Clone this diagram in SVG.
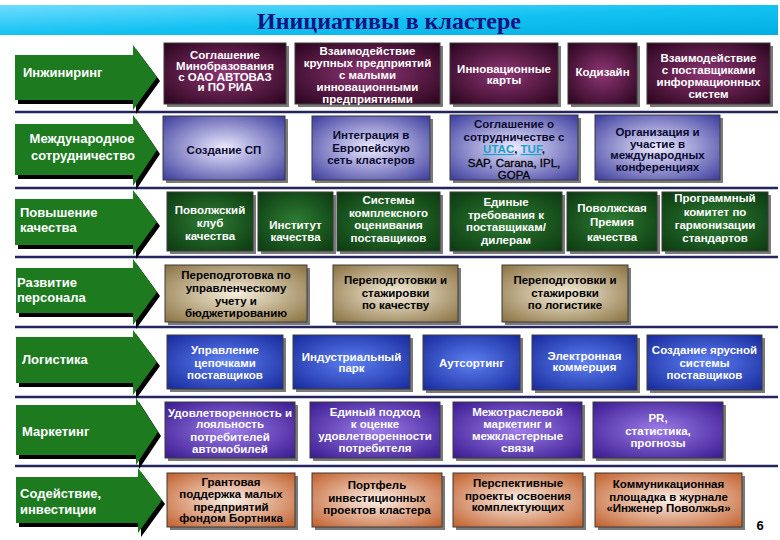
<svg xmlns="http://www.w3.org/2000/svg" width="780" height="540" viewBox="0 0 780 540">
<defs>
<linearGradient id="gt" x1="0" y1="0" x2="1" y2="1"><stop offset="0" stop-color="#6fdcff"/><stop offset="0.5" stop-color="#14c2f2"/><stop offset="1" stop-color="#00aee2"/></linearGradient>
<radialGradient id="g1" cx="50%" cy="50%" r="70%"><stop offset="0" stop-color="#8e3674"/><stop offset="1" stop-color="#2a041d"/></radialGradient>
<radialGradient id="g2" cx="50%" cy="50%" r="70%"><stop offset="0" stop-color="#eceaff"/><stop offset="1" stop-color="#3c3c9e"/></radialGradient>
<radialGradient id="g3" cx="50%" cy="50%" r="70%"><stop offset="0" stop-color="#2f7c34"/><stop offset="1" stop-color="#0b3a10"/></radialGradient>
<radialGradient id="g4" cx="50%" cy="50%" r="70%"><stop offset="0" stop-color="#f6efdc"/><stop offset="1" stop-color="#8a7140"/></radialGradient>
<radialGradient id="g5" cx="50%" cy="50%" r="70%"><stop offset="0" stop-color="#5d80f2"/><stop offset="1" stop-color="#182a9c"/></radialGradient>
<radialGradient id="g6" cx="50%" cy="50%" r="70%"><stop offset="0" stop-color="#9c7de8"/><stop offset="1" stop-color="#3a1a90"/></radialGradient>
<radialGradient id="g7" cx="50%" cy="50%" r="70%"><stop offset="0" stop-color="#fcf0e8"/><stop offset="1" stop-color="#c2602c"/></radialGradient>
<style>
.sep{stroke:#24245e;stroke-width:2.5}
.arw{fill:#1d7a1f}
.ash{fill:#000}
.lbl{font-family:"Liberation Sans",Arial,sans-serif;font-weight:bold;font-size:13px;fill:#fff}
.sh{fill:#7a7a7a}
.bx{stroke:#3a3a3a;stroke-width:1}
.r1{fill:url(#g1)}.r2{fill:url(#g2)}.r3{fill:url(#g3)}.r4{fill:url(#g4)}.r5{fill:url(#g5)}.r6{fill:url(#g6)}.r7{fill:url(#g7)}
.t{font-family:"Liberation Sans",Arial,sans-serif;font-weight:bold;font-size:11.5px;text-anchor:middle}
.w{fill:#fff}.k{fill:#000}.n{fill:#0a0a30}
.lnk{fill:#1aa0c8;text-decoration:underline}
</style>
</defs>
<rect width="780" height="540" fill="#fff"/>
<g id="title">
<rect x="0" y="5" width="778" height="30" fill="url(#gt)"/>
<text x="389" y="29" text-anchor="middle" font-family="'Liberation Serif','Times New Roman',serif" font-weight="bold" font-size="24" fill="#121282">Инициативы в кластере</text>
</g>
<g id="separators">
<line class="sep" x1="15" y1="112" x2="778" y2="112"/>
<line class="sep" x1="15" y1="188" x2="778" y2="188"/>
<line class="sep" x1="15" y1="257" x2="778" y2="257"/>
<line class="sep" x1="15" y1="327" x2="778" y2="327"/>
<line class="sep" x1="15" y1="397" x2="778" y2="397"/>
<line class="sep" x1="15" y1="466" x2="778" y2="466"/>
</g>
<g id="connectors"></g>
<g id="row-arrows">
<g id="a1"><polygon class="ash" transform="translate(3,4)" points="15,55 133,55 133,45 157,77 133,110 133,100 15,100"/><polygon class="arw" points="15,55 133,55 133,45 157,77 133,110 133,100 15,100"/><text class="lbl" x="23" y="77">Инжиниринг</text></g>
<g id="a2"><polygon class="ash" transform="translate(3,4)" points="15,124 133,124 133,115 157,150 133,186 133,175 15,175"/><polygon class="arw" points="15,124 133,124 133,115 157,150 133,186 133,175 15,175"/><text class="lbl" x="82" y="142.5" text-anchor="middle">Международное</text><text class="lbl" x="83" y="159.5" text-anchor="middle">сотрудничество</text></g>
<g id="a3"><polygon class="ash" transform="translate(3,4)" points="15,199 133,199 133,190 157,222 133,255 133,245 15,245"/><polygon class="arw" points="15,199 133,199 133,190 157,222 133,255 133,245 15,245"/><text class="lbl" x="20" y="217">Повышение</text><text class="lbl" x="20" y="232">качества</text></g>
<g id="a4"><polygon class="ash" transform="translate(3,4)" points="16,268 133,268 133,259 157,292 133,325 133,313 16,313"/><polygon class="arw" points="16,268 133,268 133,259 157,292 133,325 133,313 16,313"/><text class="lbl" x="17" y="287">Развитие</text><text class="lbl" x="17" y="302">персонала</text></g>
<g id="a5"><polygon class="ash" transform="translate(3,4)" points="16,337 133,337 133,330 157,362 133,395 133,383 16,383"/><polygon class="arw" points="16,337 133,337 133,330 157,362 133,395 133,383 16,383"/><text class="lbl" x="22" y="364">Логистика</text></g>
<g id="a6"><polygon class="ash" transform="translate(3,4)" points="16,405 136,405 136,398 158,432 136,465 136,455 16,455"/><polygon class="arw" points="16,405 136,405 136,398 158,432 136,465 136,455 16,455"/><text class="lbl" x="22" y="436">Маркетинг</text></g>
<g id="a7"><polygon class="ash" transform="translate(3,4)" points="16,477 138,477 138,468 162,500 138,533 138,523 16,523"/><polygon class="arw" points="16,477 138,477 138,468 162,500 138,533 138,523 16,523"/><text class="lbl" x="20" y="498">Содействие,</text><text class="lbl" x="20" y="514">инвестиции</text></g>
</g>
<g id="row1">
<g id="b11"><rect class="sh" x="167" y="46" width="122" height="61"/><rect class="bx r1" x="164" y="43" width="122" height="61"/><text class="t w"><tspan x="225" y="59">Соглашение</tspan><tspan x="225" y="70">Минобразования</tspan><tspan x="225" y="80.5">с ОАО АВТОВАЗ</tspan><tspan x="225" y="91">и ПО РИА</tspan></text></g>
<g id="b12"><rect class="sh" x="298" y="46" width="145" height="61"/><rect class="bx r1" x="295" y="43" width="145" height="61"/><text class="t w"><tspan x="367.5" y="55">Взаимодействие</tspan><tspan x="367.5" y="67">крупных предприятий</tspan><tspan x="367.5" y="79">с малыми</tspan><tspan x="367.5" y="91">инновационными</tspan><tspan x="367.5" y="103">предприятиями</tspan></text></g>
<g id="b13"><rect class="sh" x="453" y="46" width="108" height="61"/><rect class="bx r1" x="450" y="43" width="108" height="61"/><text class="t w"><tspan x="504" y="73">Инновационные</tspan><tspan x="504" y="84">карты</tspan></text></g>
<g id="b14"><rect class="sh" x="571" y="46" width="69" height="61"/><rect class="bx r1" x="568" y="43" width="69" height="61"/><text class="t w"><tspan x="602.5" y="76">Кодизайн</tspan></text></g>
<g id="b15"><rect class="sh" x="650" y="46" width="123" height="61"/><rect class="bx r1" x="647" y="43" width="123" height="61"/><text class="t w"><tspan x="708.5" y="62">Взаимодействие</tspan><tspan x="708.5" y="74">с поставщиками</tspan><tspan x="708.5" y="86">информационных</tspan><tspan x="708.5" y="98">систем</tspan></text></g>
</g>
<g id="row2">
<g id="b21"><rect class="sh" x="166" y="119" width="122" height="64"/><rect class="bx r2" x="163" y="116" width="122" height="64"/><text class="t n"><tspan x="224" y="154">Создание СП</tspan></text></g>
<g id="b22"><rect class="sh" x="315" y="119" width="118" height="64"/><rect class="bx r2" x="312" y="116" width="118" height="64"/><text class="t n"><tspan x="371" y="139">Интеграция в</tspan><tspan x="371" y="152">Европейскую</tspan><tspan x="371" y="164">сеть кластеров</tspan></text></g>
<g id="b23"><rect class="sh" x="453" y="118" width="128" height="65"/><rect class="bx r2" x="450" y="115" width="128" height="65"/><text class="t n"><tspan x="514" y="128">Соглашение о</tspan><tspan x="514" y="141">сотрудничестве с</tspan></text><text class="t n" x="514" y="153"><tspan class="lnk">UTAC</tspan>, <tspan class="lnk">TUF</tspan>,</text><text class="t k" style="font-size:11.5px;font-weight:normal;stroke:#000;stroke-width:0.3"><tspan x="514" y="166.5">SAP, Carana, IPL,</tspan><tspan x="514" y="178.5">GOPA</tspan></text></g>
<g id="b24"><rect class="sh" x="598" y="118" width="125" height="65"/><rect class="bx r2" x="595" y="115" width="125" height="65"/><text class="t n"><tspan x="657.5" y="136">Организация и</tspan><tspan x="657.5" y="148">участие в</tspan><tspan x="657.5" y="159">международных</tspan><tspan x="657.5" y="171">конференциях</tspan></text></g>
</g>
<g id="row3">
<g id="b31"><rect class="sh" x="170" y="195" width="86" height="59"/><rect class="bx r3" x="167" y="192" width="86" height="59"/><text class="t w"><tspan x="210" y="214">Поволжский</tspan><tspan x="210" y="227">клуб</tspan><tspan x="210" y="240">качества</tspan></text></g>
<g id="b32"><rect class="sh" x="261" y="195" width="75" height="59"/><rect class="bx r3" x="258" y="192" width="75" height="59"/><text class="t w"><tspan x="295.5" y="229">Институт</tspan><tspan x="295.5" y="241">качества</tspan></text></g>
<g id="b33"><rect class="sh" x="340" y="195" width="103" height="59"/><rect class="bx r3" x="337" y="192" width="103" height="59"/><text class="t w"><tspan x="388.5" y="204">Системы</tspan><tspan x="388.5" y="217">комплексного</tspan><tspan x="388.5" y="229">оценивания</tspan><tspan x="388.5" y="242">поставщиков</tspan></text></g>
<g id="b34"><rect class="sh" x="453" y="195" width="112" height="59"/><rect class="bx r3" x="450" y="192" width="112" height="59"/><text class="t w"><tspan x="506" y="206">Единые</tspan><tspan x="506" y="219">требования к</tspan><tspan x="506" y="231">поставщикам/</tspan><tspan x="506" y="244">дилерам</tspan></text></g>
<g id="b35"><rect class="sh" x="570" y="195" width="90" height="59"/><rect class="bx r3" x="567" y="192" width="90" height="59"/><text class="t w"><tspan x="612" y="212">Поволжская</tspan><tspan x="612" y="226">Премия</tspan><tspan x="612" y="241">качества</tspan></text></g>
<g id="b36"><rect class="sh" x="665" y="195" width="106" height="59"/><rect class="bx r3" x="662" y="192" width="106" height="59"/><text class="t w"><tspan x="715" y="202">Программный</tspan><tspan x="715" y="216">комитет по</tspan><tspan x="715" y="229">гармонизации</tspan><tspan x="715" y="242">стандартов</tspan></text></g>
</g>
<g id="row4">
<g id="b41"><rect class="sh" x="168" y="268" width="142" height="57"/><rect class="bx r4" x="165" y="265" width="142" height="57"/><text class="t k"><tspan x="236" y="279">Переподготовка по</tspan><tspan x="236" y="292">управленческому</tspan><tspan x="236" y="305">учету и</tspan><tspan x="236" y="317">бюджетированию</tspan></text></g>
<g id="b42"><rect class="sh" x="336" y="268" width="125" height="57"/><rect class="bx r4" x="333" y="265" width="125" height="57"/><text class="t k"><tspan x="395.5" y="284">Переподготовки и</tspan><tspan x="395.5" y="297">стажировки</tspan><tspan x="395.5" y="309">по качеству</tspan></text></g>
<g id="b43"><rect class="sh" x="505" y="268" width="126" height="57"/><rect class="bx r4" x="502" y="265" width="126" height="57"/><text class="t k"><tspan x="565" y="284">Переподготовки и</tspan><tspan x="565" y="297">стажировки</tspan><tspan x="565" y="309">по логистике</tspan></text></g>
</g>
<g id="row5">
<g id="b51"><rect class="sh" x="170" y="338" width="116" height="54"/><rect class="bx r5" x="167" y="335" width="116" height="54"/><text class="t w"><tspan x="225" y="354">Управление</tspan><tspan x="225" y="367">цепочками</tspan><tspan x="225" y="379">поставщиков</tspan></text></g>
<g id="b52"><rect class="sh" x="296" y="338" width="117" height="54"/><rect class="bx r5" x="293" y="335" width="117" height="54"/><text class="t w"><tspan x="351.5" y="361">Индустриальный</tspan><tspan x="351.5" y="372">парк</tspan></text></g>
<g id="b53"><rect class="sh" x="426" y="338" width="97" height="55"/><rect class="bx r5" x="423" y="335" width="97" height="55"/><text class="t w"><tspan x="471.5" y="367">Аутсортинг</tspan></text></g>
<g id="b54"><rect class="sh" x="535" y="338" width="105" height="55"/><rect class="bx r5" x="532" y="335" width="105" height="55"/><text class="t w"><tspan x="584.5" y="360">Электронная</tspan><tspan x="584.5" y="371">коммерция</tspan></text></g>
<g id="b55"><rect class="sh" x="650" y="338" width="115" height="55"/><rect class="bx r5" x="647" y="335" width="115" height="55"/><text class="t w"><tspan x="704.5" y="354">Создание ярусной</tspan><tspan x="704.5" y="367">системы</tspan><tspan x="704.5" y="379">поставщиков</tspan></text></g>
</g>
<g id="row6">
<g id="b61"><rect class="sh" x="168" y="405" width="130" height="56"/><rect class="bx r6" x="165" y="402" width="130" height="56"/><text class="t w"><tspan x="230" y="417">Удовлетворенность и</tspan><tspan x="230" y="428">лояльность</tspan><tspan x="230" y="441">потребителей</tspan><tspan x="230" y="453">автомобилей</tspan></text></g>
<g id="b62"><rect class="sh" x="313" y="405" width="130" height="56"/><rect class="bx r6" x="310" y="402" width="130" height="56"/><text class="t w"><tspan x="375" y="416">Единый подход</tspan><tspan x="375" y="428">к оценке</tspan><tspan x="375" y="440">удовлетворенности</tspan><tspan x="375" y="452">потребителя</tspan></text></g>
<g id="b63"><rect class="sh" x="456" y="405" width="129" height="56"/><rect class="bx r6" x="453" y="402" width="129" height="56"/><text class="t w"><tspan x="517.5" y="416">Межотраслевой</tspan><tspan x="517.5" y="428">маркетинг и</tspan><tspan x="517.5" y="440">межкластерные</tspan><tspan x="517.5" y="452">связи</tspan></text></g>
<g id="b64"><rect class="sh" x="596" y="405" width="130" height="56"/><rect class="bx r6" x="593" y="402" width="130" height="56"/><text class="t w"><tspan x="658" y="422">PR,</tspan><tspan x="658" y="435">статистика,</tspan><tspan x="658" y="447">прогнозы</tspan></text></g>
</g>
<g id="row7">
<g id="b71"><rect class="sh" x="170" y="476" width="128" height="54"/><rect class="bx r7" x="167" y="473" width="128" height="54"/><text class="t k"><tspan x="231" y="486">Грантовая</tspan><tspan x="231" y="498">поддержка малых</tspan><tspan x="231" y="511">предприятий</tspan><tspan x="231" y="522">фондом Бортника</tspan></text></g>
<g id="b72"><rect class="sh" x="315" y="476" width="130" height="54"/><rect class="bx r7" x="312" y="473" width="130" height="54"/><text class="t k"><tspan x="377" y="489">Портфель</tspan><tspan x="377" y="502">инвестиционных</tspan><tspan x="377" y="514">проектов кластера</tspan></text></g>
<g id="b73"><rect class="sh" x="456" y="476" width="130" height="54"/><rect class="bx r7" x="453" y="473" width="130" height="54"/><text class="t k"><tspan x="518" y="487">Перспективные</tspan><tspan x="518" y="500">проекты освоения</tspan><tspan x="518" y="511">комплектующих</tspan></text></g>
<g id="b74"><rect class="sh" x="598" y="476" width="147" height="54"/><rect class="bx r7" x="595" y="473" width="147" height="54"/><text class="t k"><tspan x="668.5" y="488">Коммуникационная</tspan><tspan x="668.5" y="501">площадка в журнале</tspan><tspan x="668.5" y="512">«Инженер Поволжья»</tspan></text></g>
</g>
<g id="page"><text x="760" y="530" text-anchor="middle" font-family="'Liberation Sans',Arial,sans-serif" font-weight="bold" font-size="13" fill="#000">6</text></g>
</svg>
